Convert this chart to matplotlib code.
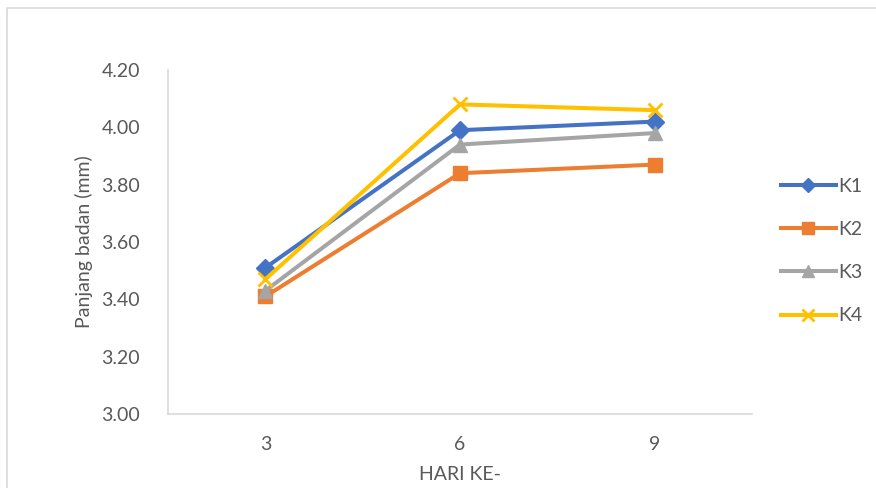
import matplotlib.pyplot as plt
import numpy as np
from matplotlib.patches import Rectangle

days = ['3', '6', '9']
k1 = [3.51, 3.99, 4.02]
k2 = [3.41, 3.84, 3.87]
k3 = [3.43, 3.94, 3.98]
k4 = [3.47, 4.08, 4.06]

series = [('K1', k1, '#4472C4', 'D', 9),
          ('K2', k2, '#ED7D31', 's', 10),
          ('K3', k3, '#A5A5A5', '^', 10),
          ('K4', k4, '#FFC000', 'x', 10)]

plt.rcParams['font.family'] = ['Lato', 'DejaVu Sans']
txt = '#595959'
fs = 14

fig = plt.figure(figsize=(8.76, 4.88), dpi=100)
ax = fig.add_axes([168/876, 74/488, 584/876, 344/488])

# outer chart border
fig.patches.append(Rectangle((7/876, -0.1), 1.0, (480/488) + 0.1,
                             transform=fig.transFigure, fill=False,
                             edgecolor='#D9D9D9', linewidth=1.2))

x = np.arange(len(days))
for name, vals, col, mk, ms in series:
    mew = 2 if mk == 'x' else 1
    ax.plot(x, vals, color=col, linewidth=2.9, marker=mk, markersize=ms,
            markeredgewidth=mew, markerfacecolor=col, markeredgecolor=col,
            label=name)

ax.set_xlim(-0.5, 2.5)
ax.set_ylim(3.0, 4.2)
ax.set_yticks(np.arange(3.0, 4.21, 0.2))
ax.set_yticklabels(['%.2f' % v for v in np.arange(3.0, 4.21, 0.2)])
ax.set_xticks(x)
ax.set_xticklabels(days)
ax.tick_params(length=0, labelsize=fs, colors=txt)
ax.tick_params(axis='y', pad=20)
ax.tick_params(axis='x', pad=16)

for s in ['top', 'right']:
    ax.spines[s].set_visible(False)
for s in ['left', 'bottom']:
    ax.spines[s].set_color('#D9D9D9')
    ax.spines[s].set_linewidth(1.2)

ax.set_ylabel('Panjang badan (mm)', fontsize=fs, color=txt, labelpad=6)
ax.set_xlabel('HARI KE-', fontsize=fs, color=txt, labelpad=9)

ax.legend(loc='center left', bbox_to_anchor=(1.02, 0.474), frameon=False,
          fontsize=fs, labelcolor=txt, handlelength=2.8, handletextpad=0.15,
          labelspacing=1.35, markerscale=0.8)

fig.savefig('out.png', dpi=100)
